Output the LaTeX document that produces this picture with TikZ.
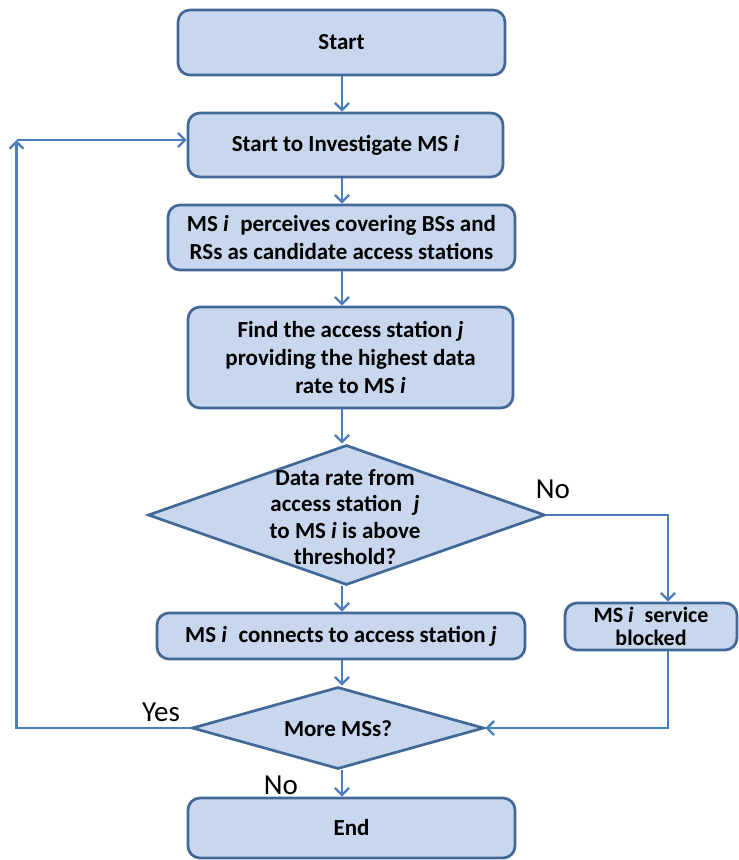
\documentclass[tikz,border=0pt]{standalone}
\usepackage{fontspec}
\setmainfont{Carlito}
\usetikzlibrary{shapes.geometric,arrows.meta}
\definecolor{boxfill}{RGB}{200,215,237}
\definecolor{boxline}{RGB}{65,104,150}
\definecolor{flow}{RGB}{74,126,187}
\begin{document}
\begin{tikzpicture}[x=1pt,y=-1pt,
  stepbox/.style={draw=boxline, fill=boxfill, line width=2.7pt, rounded corners=12pt,
    align=center, font=\fontsize{23}{28}\selectfont\bfseries, inner sep=0pt},
  decision/.style={diamond, draw=boxline, fill=boxfill, line width=2.7pt, inner sep=0pt},
  qtext/.style={align=center, font=\fontsize{23}{26.5}\selectfont\bfseries, inner sep=0pt},
  flowline/.style={draw=flow, line width=2.4pt, -{Straight Barb[length=7pt,width=14pt]}},
  answer/.style={font=\fontsize{29}{30}\selectfont, inner sep=0pt}
]
\useasboundingbox (0,0) rectangle (739,860);

% guide lines for the main column, the return loop and the side branch
\coordinate (spine) at (342,0);
\coordinate (loop) at (16.5,0);
\coordinate (side) at (668,0);

% process boxes
\node[stepbox, minimum width=327pt, minimum height=65pt] (start) at (341.5,42.5) {Start};
\node[stepbox, minimum width=315pt, minimum height=64pt] (inv) at (345.5,145) {Start to Investigate MS \textit{i}};
\node[stepbox, minimum width=347pt, minimum height=65pt] (perc) at (341.5,237.5)
  {MS \textit{i}\enspace perceives covering BSs and\\RSs as candidate access stations};
\node[stepbox, minimum width=325pt, minimum height=101pt] (find) at (350.5,357.5)
  {Find the access station \textit{j}\\providing the highest data\\rate to MS \textit{i}};

% first decision
\node[decision, minimum width=397pt, minimum height=140pt] (dec1) at (346.5,515) {};
\node[qtext] (dec1t) at (345,517)
  {Data rate from\\access station\enspace\textit{j}\\to MS \textit{i} is above\\threshold?};

\node[stepbox, minimum width=368pt, minimum height=46pt] (conn) at (341,636)
  {MS \textit{i}\enspace connects to access station \textit{j}};
\node[stepbox, font=\fontsize{22}{23}\selectfont\bfseries, minimum width=172pt, minimum height=47pt] (blocked) at (651,626.5)
  {MS \textit{i}\enspace service\\blocked};

% second decision
\node[decision, minimum width=292pt, minimum height=82pt] (dec2) at (338,728) {};
\node[qtext] (dec2t) at (338,729) {More MSs?};

\node[stepbox, minimum width=327pt, minimum height=60pt] (end) at (351.5,828) {End};

% main column connectors
\draw[flowline] (spine |- start.south) -- (spine |- inv.north);
\draw[flowline] (spine |- inv.south) -- (spine |- perc.north);
\draw[flowline] (spine |- perc.south) -- (spine |- find.north);
\draw[flowline] (spine |- find.south) -- (spine |- dec1.north);
\draw[flowline] (spine |- dec1.south) -- (spine |- conn.north);
\draw[flowline] (spine |- conn.south) -- (spine |- dec2.north);
\draw[flowline] (spine |- dec2.south) -- (spine |- end.north);

% side branch through the blocked case
\draw[flowline] (dec1.east) -| (side |- blocked.north);
\draw[flowline] (side |- blocked.south) |- (dec2.east);

% return loop to the next MS
\path ([yshift=5pt]inv.west) coordinate (entry);
\coordinate (turn) at (entry -| loop);
\draw[flowline] (dec2.west) -| (turn);
\draw[flowline] (turn) -- (entry);

% branch labels
\node[answer] (no1) at (553,489) {No};
\node[answer] (yes) at (161,712) {Yes};
\node[answer] (no2) at (281,785) {No};
\end{tikzpicture}
\end{document}
